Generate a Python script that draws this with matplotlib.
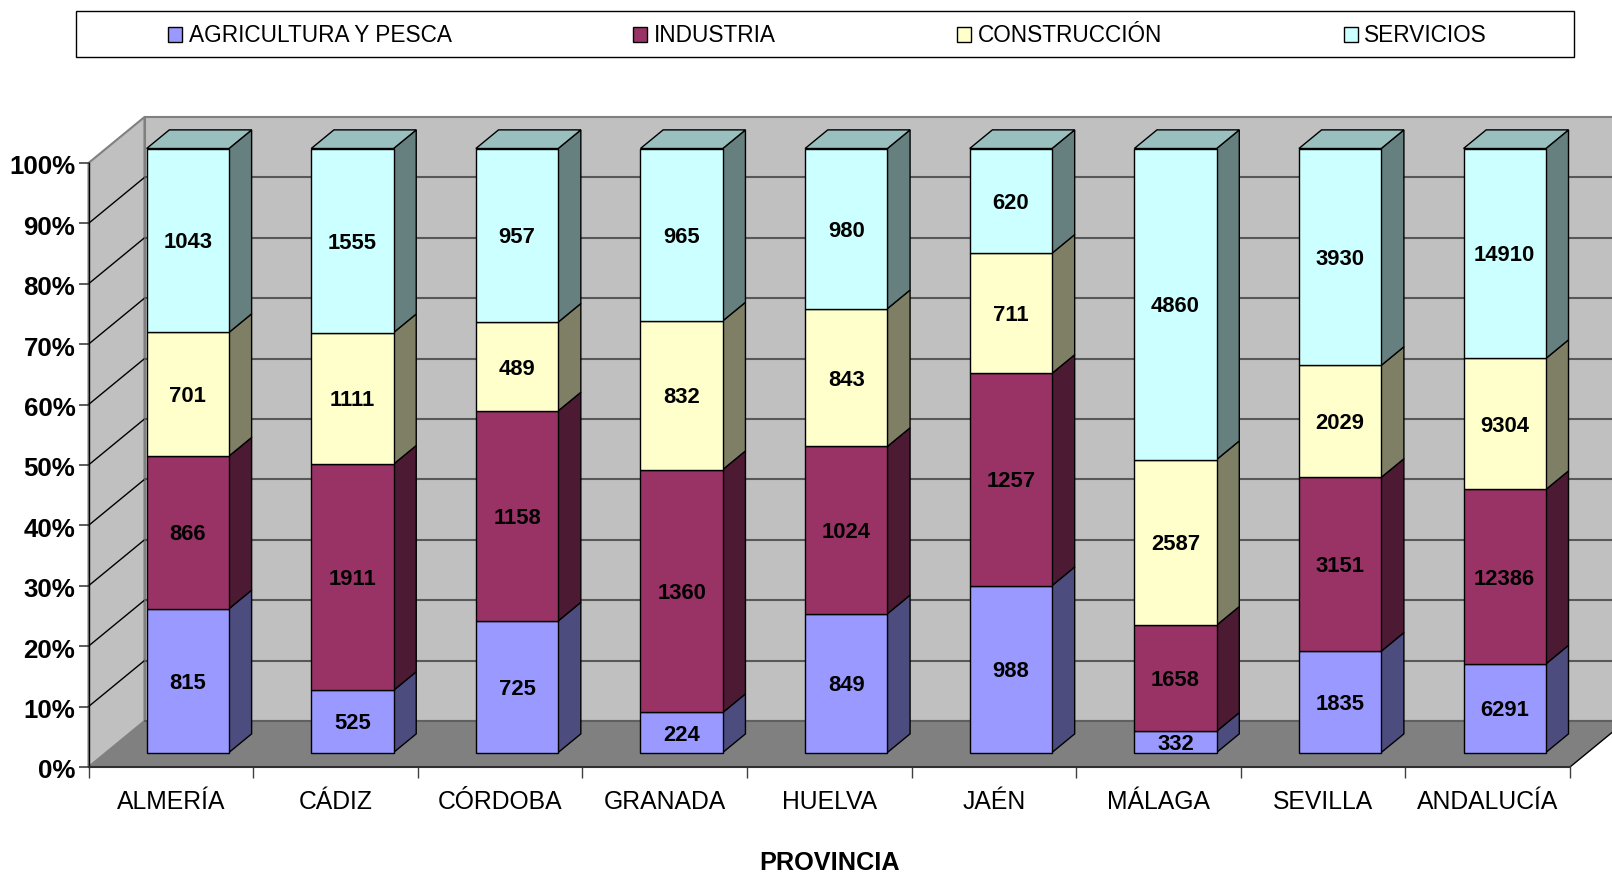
import matplotlib
matplotlib.use('Agg')
import matplotlib.pyplot as plt
import numpy as np
from matplotlib.patches import Patch, Rectangle
from matplotlib.transforms import ScaledTranslation

plt.rcParams['font.family'] = ['Liberation Sans', 'DejaVu Sans']

provincias = ['ALMERÍA', 'CÁDIZ', 'CÓRDOBA', 'GRANADA', 'HUELVA', 'JAÉN', 'MÁLAGA', 'SEVILLA', 'ANDALUCÍA']
series_names = ['AGRICULTURA Y PESCA', 'INDUSTRIA', 'CONSTRUCCIÓN', 'SERVICIOS']
agricultura = [815, 525, 725, 224, 849, 988, 332, 1835, 6291]
industria = [866, 1911, 1158, 1360, 1024, 1257, 1658, 3151, 12386]
construccion = [701, 1111, 489, 832, 843, 711, 2587, 2029, 9304]
servicios = [1043, 1555, 957, 965, 980, 620, 4860, 3930, 14910]
pct_ticks = [0, 10, 20, 30, 40, 50, 60, 70, 80, 90, 100]

front_colors = ['#9999FF', '#993366', '#FFFFCC', '#CCFFFF']
side_colors = ['#4C4C7F', '#4C1A33', '#7F7F66', '#667F7F']
top_color = '#99BFBF'

W, H = 1612, 874
# front plane of the chart box, in pixels
LEFT, RIGHT, BOTTOM, TOP = 88.5, 1570, 767, 163
px_x = (RIGHT - LEFT) / 9      # pixels per category
px_y = (BOTTOM - TOP) / 100    # pixels per percent
DEPTH_X, DEPTH_Y = 56, 46      # oblique depth of the box in pixels

BAR_WIDTH = 0.5
BAR_SHIFT = -0.004
D0, D1 = 0.315, 0.72           # depth range of the bars inside the box


def proj(x, y, d):
    # category/percent position at depth d (0 front, 1 back wall)
    return x + d * DEPTH_X / px_x, y + d * DEPTH_Y / px_y


def face(ax, pts, color, edge='black', lw=1.0, z=2):
    xs, ys = zip(*[proj(*p) for p in pts])
    ax.fill(xs, ys, facecolor=color, edgecolor=edge, linewidth=lw, clip_on=False, zorder=z,
            joinstyle='miter')


fig = plt.figure(figsize=(W / 100, H / 100), dpi=100, facecolor='white')
ax = fig.add_axes([LEFT / W, 1 - BOTTOM / H, (RIGHT - LEFT) / W, (BOTTOM - TOP) / H])
ax.patch.set_visible(False)
ax.set_xlim(0, 9)
ax.set_ylim(0, 100)

# walls and floor
face(ax, [(0, 0, 0), (0, 0, 1), (0, 100, 1), (0, 100, 0)], '#C0C0C0', edge='#808080', lw=1.5, z=1)
face(ax, [(0, 0, 1), (9, 0, 1), (9, 100, 1), (0, 100, 1)], '#C0C0C0', edge='#808080', lw=1.5, z=1)
face(ax, [(0, 0, 0), (9, 0, 0), (9, 0, 1), (0, 0, 1)], '#808080', edge='none', lw=0, z=1)

# gridlines on the walls
for p in pct_ticks[1:-1]:
    xa, ya = proj(0, p, 0)
    xb, yb = proj(0, p, 1)
    xc, yc = proj(9, p, 1)
    ax.plot([xa, xb], [ya, yb], color='black', lw=1.0, clip_on=False, zorder=1.5)
    ax.plot([xb, xc], [yb, yc], color='#585858', lw=1.5, clip_on=False, zorder=1.5)
xa, ya = proj(0, 0, 1)
xb, yb = proj(9, 0, 1)
ax.plot([xa, xb], [ya, yb], color='#606060', lw=1.5, clip_on=False, zorder=1.5)
xa, ya = proj(9, 0, 0)
xb, yb = proj(9, 0, 1)
ax.plot([xa, xb], [ya, yb], color='black', lw=1.0, clip_on=False, zorder=1.5)

# stacked bars
values = np.array([agricultura, industria, construccion, servicios], dtype=float)
percent = values / values.sum(axis=0) * 100
bottoms = np.vstack([np.zeros(9), np.cumsum(percent, axis=0)[:-1]])
centers = np.arange(9) + 0.5
for s in range(4):
    for i, c in enumerate(centers + BAR_SHIFT):
        b, t = bottoms[s, i], bottoms[s, i] + percent[s, i]
        l, r = c - BAR_WIDTH / 2, c + BAR_WIDTH / 2
        face(ax, [(r, b, D0), (r, b, D1), (r, t, D1), (r, t, D0)], side_colors[s])
        face(ax, [(l, b, D0), (r, b, D0), (r, t, D0), (l, t, D0)], front_colors[s])
        if s == 3:
            face(ax, [(l, t, D0), (r, t, D0), (r, t, D1), (l, t, D1)], top_color)
        tx, ty = proj(c, (b + t) / 2, D0)
        ax.text(tx, ty, str(int(values[s, i])), ha='center', va='center_baseline', fontsize=15.8,
                fontweight='bold', color='black', zorder=3, clip_on=False)

# axes
for name in ['top', 'right']:
    ax.spines[name].set_visible(False)
ax.spines['left'].set_linewidth(1.0)
ax.spines['bottom'].set_linewidth(1.5)
ax.spines['bottom'].set_color('#303030')
ax.set_yticks(pct_ticks)
ax.set_yticklabels([f'{p}%' for p in pct_ticks], fontsize=18.6, fontweight='bold')
ax.tick_params(axis='y', length=7, width=1.2, color='#404040', pad=2.5)
for lab in ax.get_yticklabels():
    lab.set_transform(lab.get_transform() + ScaledTranslation(0, -2 / 100, fig.dpi_scale_trans))
ax.set_xticks(np.arange(10))
ax.set_xticklabels([])
ax.tick_params(axis='x', which='major', length=8, width=1.0, color='#404040')
ax.set_xticks(centers, minor=True)
ax.set_xticklabels(provincias, minor=True, fontsize=17.8)
ax.tick_params(axis='x', which='minor', length=0, pad=30)
for lab in ax.get_xticklabels(minor=True):
    lab.set_va('baseline')
ax.set_xlabel('PROVINCIA', fontsize=18.2, fontweight='bold', va='baseline')
ax.xaxis.set_label_coords(0.5, -103 / (BOTTOM - TOP))

# legend box across the top
fig.add_artist(Rectangle((76 / W, 1 - 57 / H), 1498 / W, 46 / H, transform=fig.transFigure,
                         facecolor='white', edgecolor='black', linewidth=1.0))
handles = [Patch(facecolor=c, edgecolor='black', linewidth=1.0) for c in front_colors]
fig.legend(handles, series_names, loc='center', bbox_to_anchor=(0.5135, 1 - 36 / H), ncol=4,
           frameon=False, fontsize=16.3, handlelength=0.62, handleheight=0.62,
           handletextpad=0.3, columnspacing=8.0, borderaxespad=0, borderpad=0)

fig.savefig('out.png', dpi=100)
